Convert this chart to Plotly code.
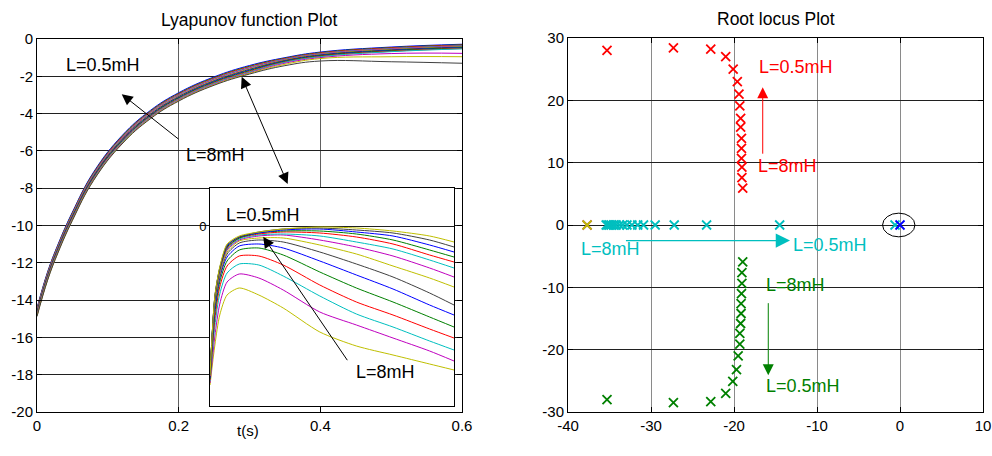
import plotly.graph_objects as go

W, H = 992, 456
FONT = "Liberation Sans, Arial, sans-serif"

# ---------------- Left: Lyapunov function (main) ----------------
T_MAIN = [0, 0.015, 0.03, 0.05, 0.08, 0.12, 0.16, 0.2, 0.25, 0.3, 0.35, 0.4, 0.5, 0.6]
V_MAIN = [
    [-14.43, -12.48, -10.98, -9.28, -7.13, -5.18, -3.83, -2.88, -2.03, -1.42, -1.0, -0.7, -0.43, -0.28],
    [-14.47, -12.52, -11.02, -9.32, -7.17, -5.22, -3.87, -2.92, -2.07, -1.46, -1.03, -0.73, -0.46, -0.31],
    [-14.5, -12.55, -11.05, -9.35, -7.2, -5.25, -3.9, -2.95, -2.1, -1.49, -1.05, -0.75, -0.48, -0.33],
    [-14.54, -12.59, -11.09, -9.39, -7.24, -5.29, -3.94, -2.99, -2.14, -1.53, -1.08, -0.78, -0.51, -0.36],
    [-14.57, -12.62, -11.12, -9.42, -7.27, -5.32, -3.97, -3.02, -2.17, -1.56, -1.1, -0.8, -0.53, -0.38],
    [-14.61, -12.66, -11.16, -9.46, -7.31, -5.36, -4.01, -3.06, -2.21, -1.6, -1.13, -0.83, -0.56, -0.41],
    [-14.64, -12.69, -11.19, -9.49, -7.34, -5.39, -4.04, -3.09, -2.24, -1.63, -1.15, -0.85, -0.58, -0.43],
    [-14.68, -12.73, -11.23, -9.53, -7.38, -5.43, -4.08, -3.13, -2.28, -1.67, -1.18, -0.88, -0.61, -0.46],
    [-14.71, -12.76, -11.26, -9.56, -7.41, -5.46, -4.11, -3.16, -2.31, -1.7, -1.2, -0.9, -0.63, -0.48],
    [-14.75, -12.8, -11.3, -9.6, -7.45, -5.5, -4.15, -3.2, -2.35, -1.74, -1.23, -0.93, -0.66, -0.51],
    [-14.78, -12.83, -11.33, -9.63, -7.48, -5.53, -4.18, -3.23, -2.38, -1.77, -1.25, -0.95, -0.68, -0.53],
    [-14.82, -12.87, -11.37, -9.67, -7.52, -5.57, -4.22, -3.27, -2.42, -1.81, -1.3, -1.0, -0.78, -0.77],
    [-14.85, -12.9, -11.4, -9.7, -7.55, -5.6, -4.25, -3.3, -2.45, -1.84, -1.36, -1.05, -0.95, -0.95],
    [-14.88, -12.93, -11.43, -9.73, -7.58, -5.63, -4.28, -3.33, -2.48, -1.88, -1.43, -1.18, -1.22, -1.3],
]
B, G, R, C, M, Y, K = "#0000ff", "#008000", "#ff0000", "#00bfbf", "#bf00bf", "#bfbf00", "#404040"
MAIN_COLORS = [B, G, R, C, M, Y, K, B, G, R, C, M, Y, K]

L_XTICKS = [0, 0.2, 0.4, 0.6]
L_XTICKTEXT = ["0", "0.2", "0.4", "0.6"]
L_YTICKS = [-20, -18, -16, -14, -12, -10, -8, -6, -4, -2, 0]
L_YTICKTEXT = ["-20", "-18", "-16", "-14", "-12", "-10", "-8", "-6", "-4", "-2", "0"]

# ---------------- Left: inset (zoom of the curves) ----------------
X_INSET = [0, 0.02, 0.04, 0.07, 0.12, 0.2, 0.3, 0.45, 0.6, 0.75, 0.9, 1.0]
V_INSET = [
    [-1.59, -1.19, -0.89, -0.69, -0.62, -0.69, -0.82, -1.06, -1.2, -1.29, -1.38, -1.44],
    [-1.57, -1.1, -0.78, -0.56, -0.48, -0.52, -0.64, -0.86, -0.99, -1.12, -1.25, -1.35],
    [-1.55, -1.0, -0.68, -0.47, -0.38, -0.39, -0.5, -0.7, -0.88, -1.01, -1.15, -1.24],
    [-1.54, -0.93, -0.61, -0.4, -0.3, -0.3, -0.39, -0.59, -0.76, -0.89, -1.03, -1.12],
    [-1.53, -0.87, -0.56, -0.35, -0.24, -0.22, -0.29, -0.46, -0.62, -0.76, -0.91, -1.01],
    [-1.52, -0.83, -0.52, -0.31, -0.2, -0.18, -0.22, -0.35, -0.49, -0.63, -0.79, -0.89],
    [-1.51, -0.79, -0.5, -0.28, -0.17, -0.14, -0.16, -0.26, -0.38, -0.51, -0.67, -0.79],
    [-1.5, -0.76, -0.48, -0.26, -0.15, -0.12, -0.12, -0.19, -0.28, -0.4, -0.52, -0.61],
    [-1.5, -0.74, -0.46, -0.24, -0.14, -0.1, -0.09, -0.14, -0.21, -0.3, -0.42, -0.51],
    [-1.49, -0.73, -0.45, -0.23, -0.13, -0.09, -0.08, -0.1, -0.16, -0.23, -0.34, -0.42],
    [-1.49, -0.72, -0.44, -0.22, -0.12, -0.08, -0.06, -0.07, -0.11, -0.18, -0.29, -0.36],
    [-1.49, -0.71, -0.43, -0.21, -0.12, -0.07, -0.05, -0.05, -0.08, -0.14, -0.24, -0.31],
    [-1.49, -0.71, -0.42, -0.2, -0.11, -0.07, -0.04, -0.03, -0.06, -0.1, -0.19, -0.26],
    [-1.49, -0.7, -0.42, -0.19, -0.11, -0.06, -0.03, -0.02, -0.04, -0.07, -0.14, -0.21],
    [-1.49, -0.7, -0.41, -0.18, -0.1, -0.06, -0.03, -0.01, -0.02, -0.05, -0.1, -0.16],
]
INSET_COLORS = [Y, M, C, R, G, B, K, Y, M, C, R, G, B, K, Y]

# ---------------- Right: root locus ----------------
RED_RE = [-35.3, -27.3, -22.8, -21.0, -20.1, -19.6, -19.4, -19.3, -19.2, -19.2, -19.1, -19.1, -19.1, -19.05, -19.05, -18.95]
RED_IM = [28.0, 28.4, 28.2, 27.0, 25.0, 23.0, 21.0, 19.1, 17.1, 15.7, 13.9, 12.3, 10.7, 9.3, 7.6, 5.9]
GREEN_RE = [-35.3, -27.3, -22.8, -21.0, -20.15, -19.7, -19.5, -19.3, -19.3, -19.2, -19.15, -19.15, -19.1, -19.05, -19.05, -18.95]
GREEN_IM = [-28.0, -28.5, -28.35, -27.0, -25.1, -23.2, -21.0, -19.1, -17.4, -15.8, -14.2, -12.6, -11.0, -9.35, -7.65, -5.9]
CYAN_RE = [-14.5, -23.3, -27.2, -29.5, -30.9, -31.6, -32.3, -32.9, -33.4, -33.8, -34.2, -34.5, -34.8, -35.0, -35.2, -35.4]
CYAN_IM = [0, 0, 0, 0, 0, 0, 0, 0, 0, 0, 0, 0, 0, 0, 0, 0]
POLE_FAR_RE = [-37.7]
POLE_FAR_IM = [0]
POLE_NEAR_CYAN_RE = [-0.6]
POLE_NEAR_BLUE_RE = [0.0]
POLE_NEAR_IM = [0]
ELLIPSE = dict(x0=-2.1, x1=1.8, y0=-1.9, y1=1.9)

R_XTICKS = [-40, -30, -20, -10, 0, 10]
R_XTICKTEXT = ["-40", "-30", "-20", "-10", "0", "10"]
R_YTICKS = [-30, -20, -10, 0, 10, 20, 30]
R_YTICKTEXT = ["-30", "-20", "-10", "0", "10", "20", "30"]

fig = go.Figure()

for row, col in zip(V_MAIN, MAIN_COLORS):
    fig.add_trace(go.Scatter(x=T_MAIN, y=row, mode="lines", xaxis="x", yaxis="y",
                             line=dict(color=col, width=1, shape="spline", smoothing=1.2),
                             hoverinfo="skip", showlegend=False))

for row, col in zip(V_INSET, INSET_COLORS):
    fig.add_trace(go.Scatter(x=X_INSET, y=row, mode="lines", xaxis="x3", yaxis="y3",
                             line=dict(color=col, width=1, shape="spline", smoothing=0.7),
                             hoverinfo="skip", showlegend=False))


def xmarks(xs, ys, color):
    fig.add_trace(go.Scatter(x=xs, y=ys, mode="markers", xaxis="x2", yaxis="y2",
                             marker=dict(symbol="x-thin", size=9, color=color,
                                         line=dict(width=1.8, color=color)),
                             hoverinfo="skip", showlegend=False))


xmarks(RED_RE, RED_IM, R)
xmarks(GREEN_RE, GREEN_IM, G)
xmarks(CYAN_RE, CYAN_IM, C)
xmarks(POLE_FAR_RE, POLE_FAR_IM, M)
xmarks(POLE_FAR_RE, POLE_FAR_IM, Y)
xmarks(POLE_NEAR_CYAN_RE, POLE_NEAR_IM, C)
xmarks(POLE_NEAR_BLUE_RE, POLE_NEAR_IM, B)

tickfont = dict(family=FONT, size=15, color="black")
common = dict(showline=True, linecolor="black", linewidth=1, mirror="allticks",
              ticks="inside", ticklen=5, tickcolor="black", tickfont=tickfont,
              zeroline=False, showgrid=True, automargin=False, gridwidth=1)

fig.update_layout(
    template="none",
    width=W, height=H, autosize=False,
    margin=dict(l=0, r=0, t=0, b=0, pad=0),
    paper_bgcolor="white", plot_bgcolor="white",
    showlegend=False,
    xaxis=dict(domain=[37 / W, 462 / W], anchor="y", range=[0, 0.6],
               tickvals=L_XTICKS, ticktext=L_XTICKTEXT, gridcolor="#606060", **common),
    yaxis=dict(domain=[1 - 412 / H, 1 - 39 / H], anchor="x", range=[-20, 0],
               tickvals=L_YTICKS, ticktext=L_YTICKTEXT, gridcolor="#202020", **common),
    xaxis2=dict(domain=[568 / W, 983 / W], anchor="y2", range=[-40, 10],
                tickvals=R_XTICKS, ticktext=R_XTICKTEXT, gridcolor="#8a8a8a", **common),
    yaxis2=dict(domain=[1 - 412 / H, 1 - 38 / H], anchor="x2", range=[-30, 30],
                tickvals=R_YTICKS, ticktext=R_YTICKTEXT, gridcolor="#202020", **common),
    xaxis3=dict(domain=[210 / W, 454 / W], anchor="y3", range=[0, 1],
                showline=True, linecolor="black", linewidth=1, mirror=True, ticks="",
                showticklabels=False, showgrid=False, zeroline=False, automargin=False),
    yaxis3=dict(domain=[1 - 406 / H, 1 - 188 / H], anchor="x3", range=[-1.8, 0.38],
                showline=True, linecolor="black", linewidth=1, mirror=True, ticks="",
                tickvals=[0], ticktext=["0"], tickfont=dict(family=FONT, size=13, color="black"),
                showgrid=True, gridcolor="#202020", gridwidth=1, zeroline=False, automargin=False),
)

fig.add_shape(type="circle", xref="x2", yref="y2", line=dict(color="black", width=1), **ELLIPSE)

ann = []
ann.append(dict(text="Lyapunov function Plot", xref="paper", yref="paper", x=249 / W, y=1 - 20 / H,
                showarrow=False, font=dict(family=FONT, size=17.5, color="black"), xanchor="center", yanchor="middle"))
ann.append(dict(text="Root locus Plot", xref="paper", yref="paper", x=776 / W, y=1 - 19 / H,
                showarrow=False, font=dict(family=FONT, size=17.5, color="black"), xanchor="center", yanchor="middle"))
ann.append(dict(text="t(s)", xref="paper", yref="paper", x=248 / W, y=1 - 430 / H,
                showarrow=False, font=dict(family=FONT, size=15, color="black"), xanchor="center", yanchor="middle"))

lab = dict(family=FONT, size=18)


def text(t, x, y, xr, yr, color="black"):
    ann.append(dict(text=t, x=x, y=y, xref=xr, yref=yr, showarrow=False, xanchor="left", yanchor="middle",
                    font=dict(lab, color=color), borderpad=0))


def arrow(x, y, ax, ay, xr, yr, color="black", both=False, width=1):
    ann.append(dict(text="", x=x, y=y, ax=ax, ay=ay, xref=xr, yref=yr, axref=xr, ayref=yr,
                    showarrow=True, arrowhead=2, arrowsize=2.2, arrowwidth=width, arrowcolor=color,
                    startarrowhead=2, startarrowsize=2.2, standoff=0, startstandoff=0,
                    arrowside="end+start" if both else "end"))


# left main
text("L=0.5mH", 0.0395, -1.42, "x", "y")
text("L=8mH", 0.209, -6.2, "x", "y")
arrow(0.1196, -2.96, 0.2019, -5.43, "x", "y")
arrow(0.289, -2.03, 0.3548, -7.85, "x", "y", both=True)
# inset
text("L=0.5mH", 0.061, 0.11, "x3", "y3")
text("L=8mH", 0.594, -1.46, "x3", "y3")
arrow(0.218, -0.107, 0.567, -1.357, "x3", "y3")
# right
text("L=0.5mH", -17.1, 25.3, "x2", "y2", R)
text("L=8mH", -17.2, 9.5, "x2", "y2", R)
arrow(-16.54, 22.1, -16.54, 11.2, "x2", "y2", R)
text("L=8mH", -38.55, -3.9, "x2", "y2", C)
text("L=0.5mH", -13.0, -3.2, "x2", "y2", C)
arrow(-13.25, -2.5, -33.2, -2.5, "x2", "y2", C, width=1.3)
text("L=8mH", -16.3, -9.55, "x2", "y2", G)
text("L=0.5mH", -16.3, -25.75, "x2", "y2", G)
arrow(-15.87, -24.1, -15.87, -12.3, "x2", "y2", G)

fig.update_layout(annotations=ann)
fig.write_html("out.html",
               config={"displayModeBar": False},
               post_script="document.body.style.margin='0';document.body.style.overflow='hidden';")
